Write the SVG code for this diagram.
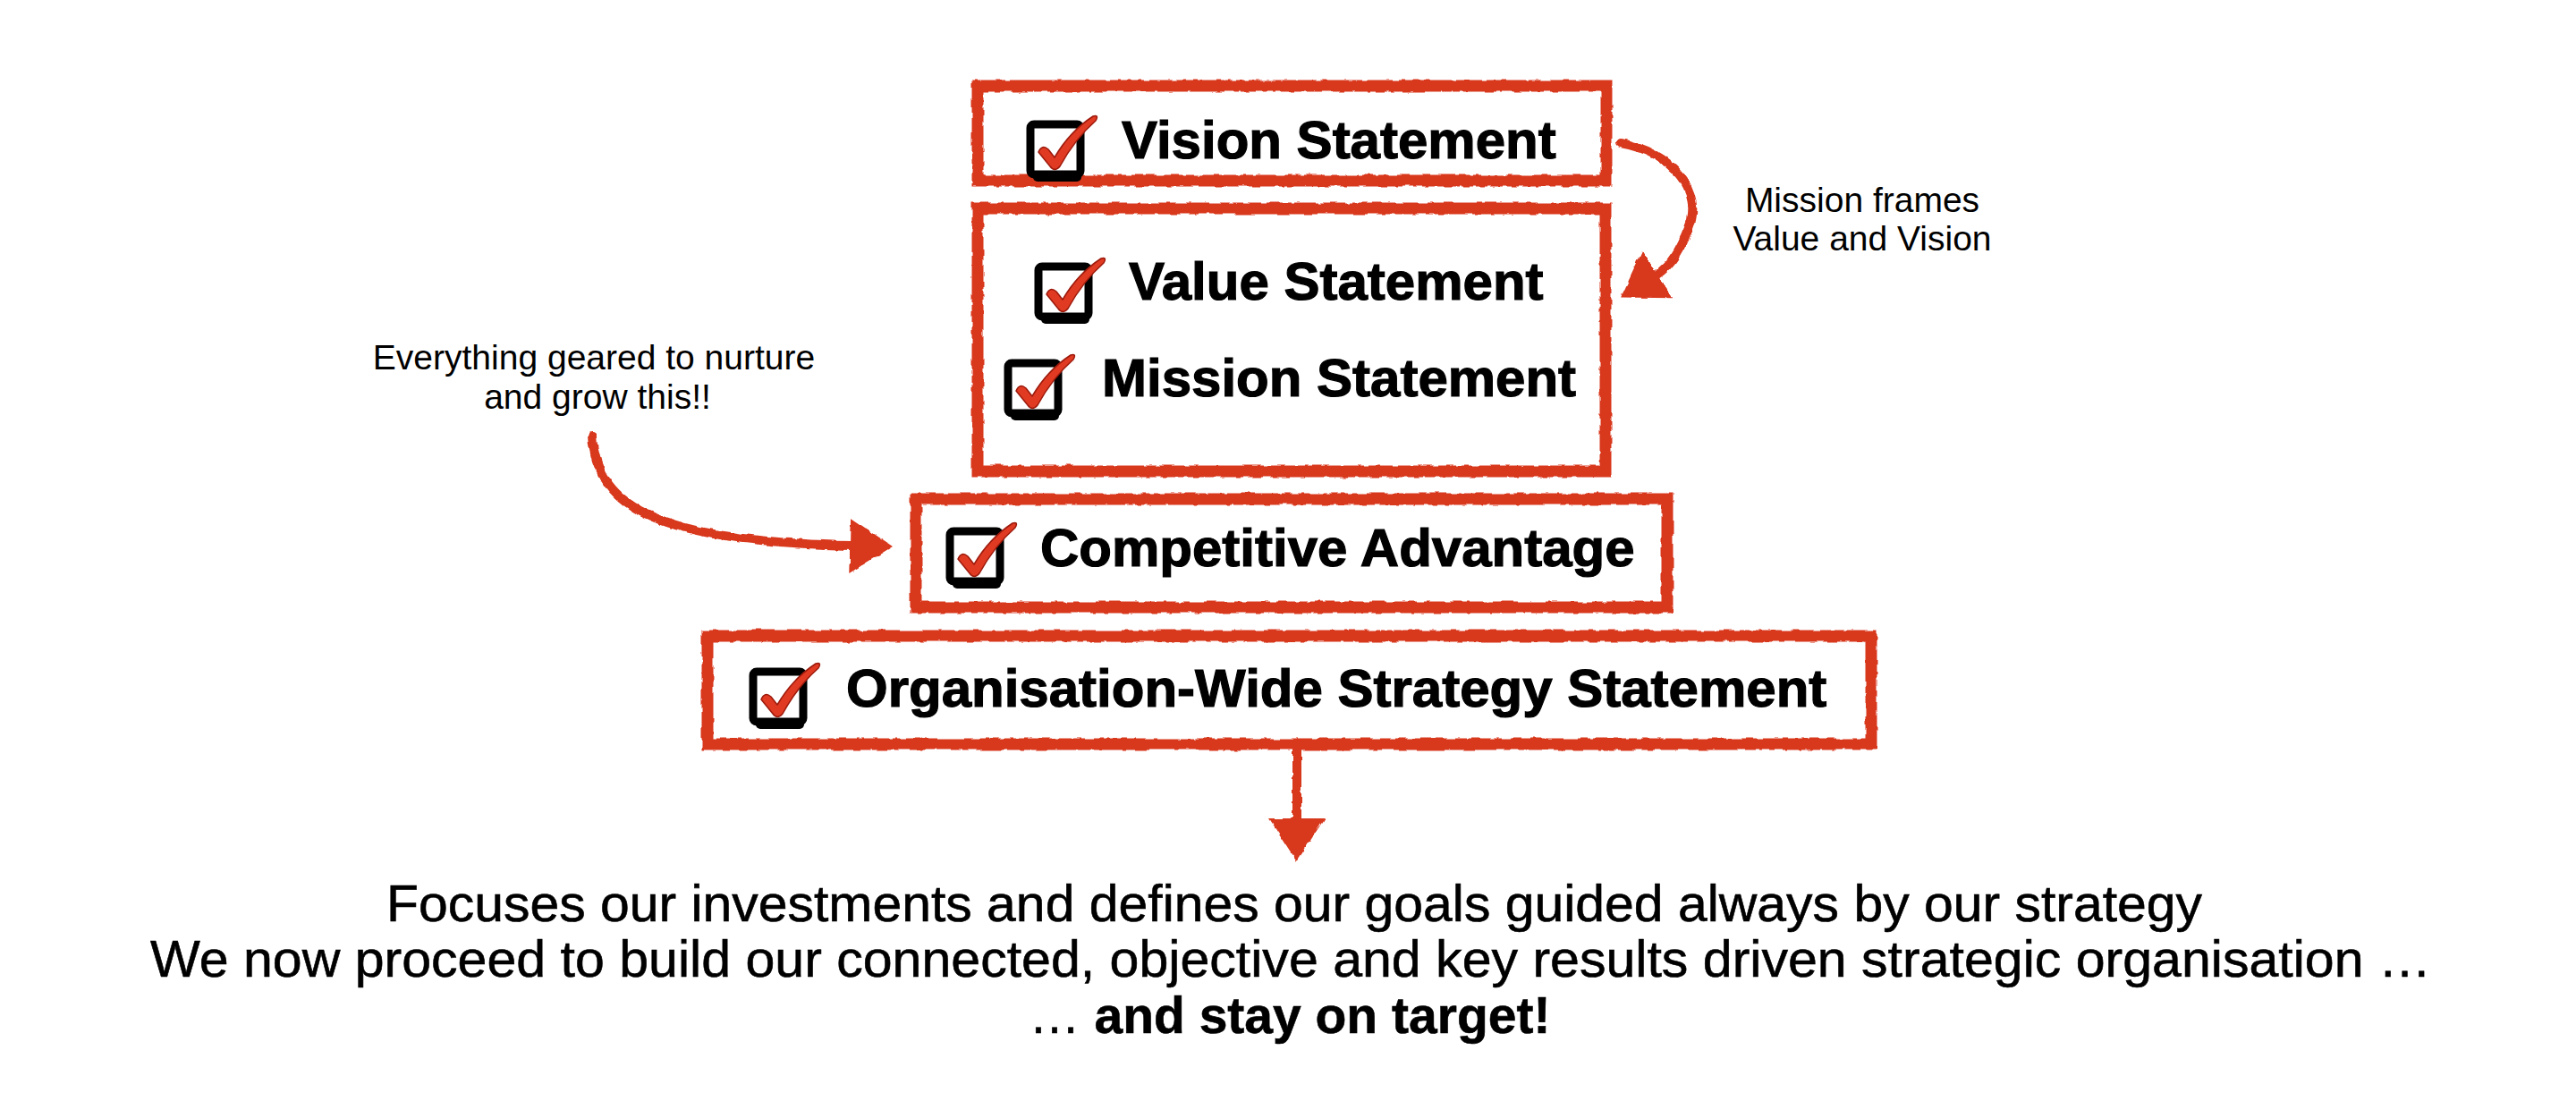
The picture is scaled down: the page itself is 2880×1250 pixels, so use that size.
<svg xmlns="http://www.w3.org/2000/svg" xmlns:xlink="http://www.w3.org/1999/xlink" width="2880" height="1250" viewBox="0 0 2880 1250">
<style>
  .box { fill: #ffffff; stroke: #d8381f; stroke-width: 13; filter: url(#rough); }
  .conn { fill: none; stroke: #d8381f; stroke-width: 10; stroke-linecap: round; filter: url(#rough); }
  .title { font-family: "Liberation Sans", Arial, sans-serif; font-weight: bold; font-size: 60px; fill: #000; stroke: #000; stroke-width: 1.2; }
  .note { font-family: "Liberation Sans", Arial, sans-serif; font-size: 39px; fill: #000; }
  .foot { font-family: "Liberation Sans", Arial, sans-serif; font-size: 57px; fill: #000; stroke: #000; stroke-width: 0.6; }
</style>
<defs>
  <filter id="rough" filterUnits="userSpaceOnUse" x="0" y="0" width="2880" height="1250">
    <feTurbulence type="fractalNoise" baseFrequency="0.09" numOctaves="2" seed="3" result="n"/>
    <feDisplacementMap in="SourceGraphic" in2="n" scale="5" xChannelSelector="R" yChannelSelector="G"/>
  </filter>
  <marker id="arrow" markerUnits="userSpaceOnUse" viewBox="0 0 48 62" refX="2" refY="31" markerWidth="48" markerHeight="62" orient="auto">
    <path d="M0,0 L48,31 L0,62 Z" fill="#d8381f"/>
  </marker>
  <g id="checkbox">
    <rect x="0" y="0" width="56" height="56" rx="4" fill="none" stroke="#000" stroke-width="9" stroke-linejoin="round"/>
    <path d="M8,59 L52,59" stroke="#000" stroke-width="10" stroke-linecap="round"/>
    <path d="M9,31 Q13,22 20,28 L27,37 Q44,8 70,-9 Q77,-11 73,-4 Q50,16 33,47 Q27,54 22,47 Z" fill="#e03a22" stroke="#9c1a0c" stroke-width="1.5" stroke-linejoin="round"/>
  </g>
</defs>
<rect width="2880" height="1250" fill="#ffffff"/>

<g id="connectors">
  <path class="conn" d="M1812,160 C1870,170 1905,215 1888,255 C1880,275 1870,296 1851,308" marker-end="url(#arrow)"/>
  <path class="conn" d="M662,488 C668,570 740,605 952,610" marker-end="url(#arrow)"/>
  <path class="conn" d="M1450,836 L1450,917" marker-end="url(#arrow)"/>
</g>

<g id="vision">
  <rect class="box" x="1093" y="96" width="703" height="106"/>
  <use xlink:href="#checkbox" x="1152" y="139"/>
  <text class="title" x="1254" y="177">Vision Statement</text>
</g>

<g id="value-mission">
  <rect class="box" x="1093" y="233" width="702" height="294"/>
  <use xlink:href="#checkbox" x="1161" y="298"/>
  <text class="title" x="1262" y="335">Value Statement</text>
  <use xlink:href="#checkbox" x="1127" y="406"/>
  <text class="title" x="1232" y="443">Mission Statement</text>
</g>

<g id="competitive">
  <rect class="box" x="1024" y="558" width="840" height="121"/>
  <use xlink:href="#checkbox" x="1062" y="594"/>
  <text class="title" x="1163" y="633">Competitive Advantage</text>
</g>

<g id="strategy">
  <rect class="box" x="791" y="711" width="1301" height="121"/>
  <use xlink:href="#checkbox" x="842" y="751"/>
  <text class="title" x="946" y="790">Organisation-Wide Strategy Statement</text>
</g>

<g id="note-right">
  <text class="note" x="2082" y="237" text-anchor="middle" font-size="40">Mission frames</text>
  <text class="note" x="2082" y="280" text-anchor="middle" font-size="40">Value and Vision</text>
</g>

<g id="note-left">
  <text class="note" x="664" y="413" text-anchor="middle">Everything geared to nurture</text>
  <text class="note" x="668" y="457" text-anchor="middle">and grow this!!</text>
</g>

<g id="footer">
  <text class="foot" x="432" y="1030" textLength="2030" lengthAdjust="spacingAndGlyphs">Focuses our investments and defines our goals guided always by our strategy</text>
  <text class="foot" x="168" y="1092" textLength="2550" lengthAdjust="spacingAndGlyphs">We now proceed to build our connected, objective and key results driven strategic organisation …</text>
  <text class="foot" x="1442" y="1155" text-anchor="middle">… <tspan font-weight="bold">and stay on target!</tspan></text>
</g>
</svg>
